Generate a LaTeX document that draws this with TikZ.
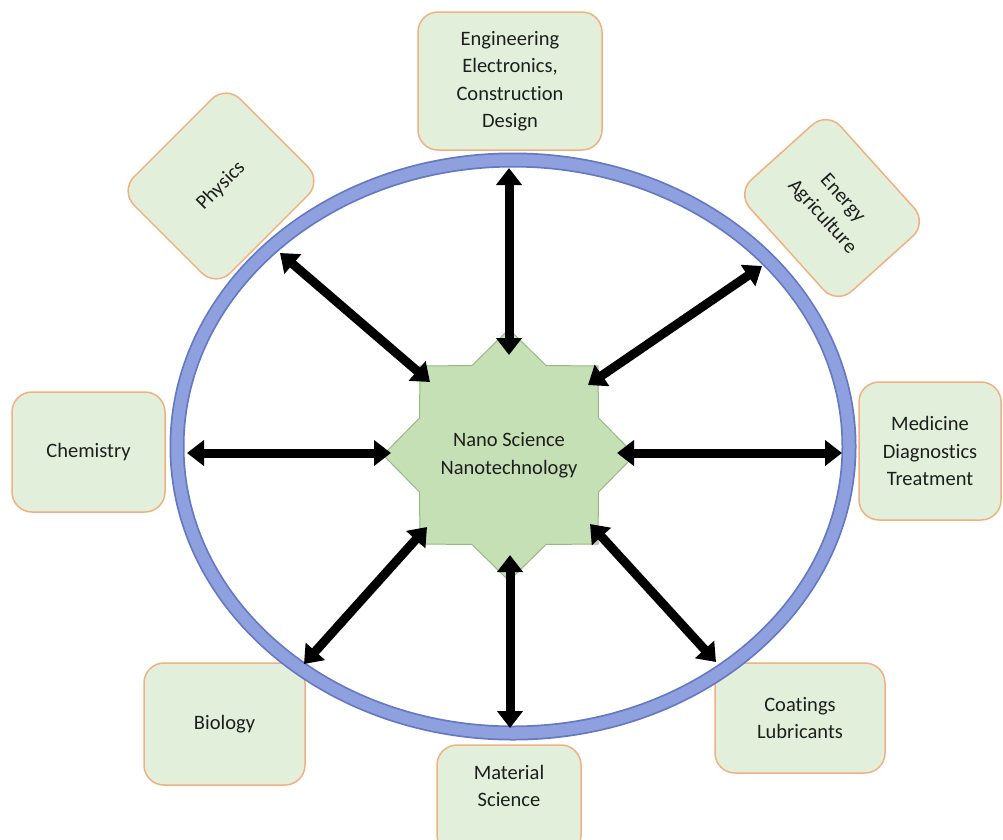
\documentclass[tikz,border=0pt]{standalone}
\usepackage{fontspec}
\setmainfont{Carlito}[Ligatures=NoCommon]
\usetikzlibrary{shapes.geometric,arrows.meta}
\definecolor{boxfill}{RGB}{226,239,218}
\definecolor{boxline}{RGB}{240,176,128}
\definecolor{starfill}{RGB}{198,224,181}
\definecolor{starline}{RGB}{150,185,130}
\definecolor{ringdark}{RGB}{100,120,195}
\definecolor{ringlight}{RGB}{143,160,222}
\definecolor{txt}{RGB}{30,30,30}
\begin{document}
\begin{tikzpicture}[x=1pt,y=-1pt,
  box/.style={draw=boxline, line width=1.5pt, fill=boxfill, rounded corners=20pt,
    align=center, text=txt, font=\fontsize{20.5}{27.5}\selectfont, inner sep=0pt},
  lbl/.style={align=center, text=txt, font=\fontsize{20.5}{27.5}\selectfont, inner sep=0pt},
  biarrow/.style={line width=9pt, black,
    {Triangle[width=25pt,length=17pt]}-{Triangle[width=25pt,length=17pt]}}]
\useasboundingbox (0,0) rectangle (1003,839);
\clip (0,0) rectangle (1003,839);
% boxes
\node[box, minimum width=184pt, minimum height=138pt] (eng) at (510,81)
  {Engineering\\Electronics,\\Construction\\Design};
\node[box, rotate=45, minimum width=150pt, minimum height=136pt] (phys) at (221,186) {Physics};
\node[box, rotate=-48, minimum width=150pt, minimum height=122pt] (ener) at (832,208)
  {Energy\\Agriculture};
\node[box, minimum width=153pt, minimum height=120pt] (chem) at (88.5,452) {Chemistry};
\node[box, minimum width=142pt, minimum height=138pt] (med) at (930,451)
  {Medicine\\Diagnostics\\Treatment};
\node[box, minimum width=161pt, minimum height=122pt] (bio) at (224.5,724) {Biology};
\node[box, minimum width=170pt, minimum height=110pt] (coat) at (800,718)
  {Coatings\\Lubricants};
\node[box, minimum width=144pt, minimum height=110pt] (mat) at (509,800) {};
\node[lbl] (matT) at (509,786) {Material\\Science};
% ring
\draw[ringdark, line width=15pt] (513,446.5) ellipse [x radius=336, y radius=286.5];
\draw[ringlight, line width=11.5pt] (513,446.5) ellipse [x radius=336, y radius=286.5];
\coordinate (ring) at (513,446.5);
% star
\node[star, star points=8, star point ratio=1.3, minimum size=250pt, inner sep=0pt,
  fill=starfill, draw=starline, line width=1pt, align=center, text=txt,
  font=\fontsize{20.5}{27.5}\selectfont] (nano) at (509,455)
  {Nano Science\\Nanotechnology};
% arrow end points
\coordinate (oT) at (509,168);   \coordinate (iT) at (509,355);
\coordinate (oUL) at (280,253);  \coordinate (iUL) at (430,382);
\coordinate (oUR) at (762,266);  \coordinate (iUR) at (588,385);
\coordinate (oL) at (187,453);   \coordinate (iL) at (391,453);
\coordinate (oR) at (842,453);   \coordinate (iR) at (617,453);
\coordinate (oLL) at (304,664);  \coordinate (iLL) at (427,527);
\coordinate (oB) at (510,728);   \coordinate (iB) at (510,555);
\coordinate (oLR) at (716,662);  \coordinate (iLR) at (590,524);
\draw[biarrow] (oT) -- (iT);
\draw[biarrow] (oUL) -- (iUL);
\draw[biarrow] (oUR) -- (iUR);
\draw[biarrow] (oL) -- (iL);
\draw[biarrow] (oR) -- (iR);
\draw[biarrow] (oLL) -- (iLL);
\draw[biarrow] (oB) -- (iB);
\draw[biarrow] (oLR) -- (iLR);
\end{tikzpicture}
\end{document}
